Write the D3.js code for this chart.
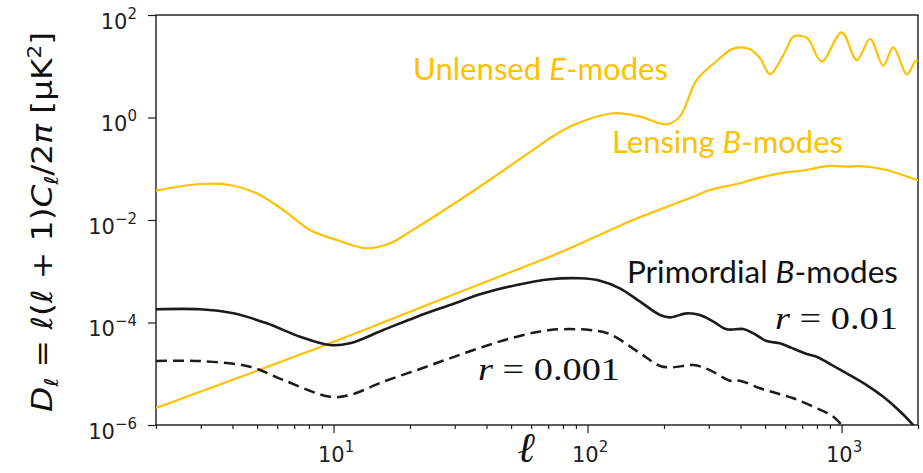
<!DOCTYPE html>
<html>
<head>
<meta charset="utf-8">
<script src="https://cdn.jsdelivr.net/npm/d3@7"></script>
<style>
  body { margin: 0; background: #fff; }
  svg { display: block; }
</style>
</head>
<body>
<svg id="chart" width="923" height="473"></svg>
<script>
// Unlensed E-mode power spectrum, D_ell in uK^2
const ellUnlensedE = [2, 2.98, 3.91, 4.98, 6.34, 8.08, 10.3, 13.5, 16.7, 20, 36, 65, 71, 88, 126, 161, 205, 231, 269, 332, 364, 398, 436, 478, 523, 590, 646, 686, 729, 752, 836, 1002, 1148, 1295, 1460, 1599, 1806, 1946, 2000];
const dUnlensedE   = [0.0373, 0.0504, 0.0482, 0.0332, 0.01567, 0.00638, 0.00407, 0.00281, 0.00351, 0.00592, 0.0385, 0.29, 0.393, 0.714, 1.21, 1.04, 0.736, 1.04, 5.4, 14.3, 20.8, 23.4, 21.4, 14.3, 6.96, 16.6, 37.7, 39.4, 36, 30.1, 12.3, 45.9, 13.2, 34.0, 10.3, 23.4, 6.96, 12.3, 13];

// Lensing B-modes
const ellLensingB = [2, 9.68, 30, 71.1, 80, 151, 176, 261, 303, 398, 436, 572, 729, 875, 1080, 1182, 1506, 1946, 2000];
const dLensingB   = [2.15e-6, 3.93e-5, 3.6e-4, 1.92e-3, 2.45e-3, 1.0e-2, 1.35e-2, 2.85e-2, 3.85e-2, 5.2e-2, 6.0e-2, 8.15e-2, 9.47e-2, 0.113, 0.110, 0.113, 0.0947, 0.0622, 0.060];

// Primordial B-modes, r = 0.01
const ellPrimordial01 = [2, 2.98, 4.03, 5.46, 7.38, 9.68, 11.6, 15.7, 21.3, 28.7, 38.9, 52.6, 71.1, 93.3, 112, 134, 161, 193, 211, 246, 277, 313, 353, 410, 450, 507, 572, 627, 729, 798, 901, 1048, 1256, 1460, 1648, 1888, 2000];
const dPrimordial01   = [1.81e-4, 1.81e-4, 1.51e-4, 9.64e-5, 5.28e-5, 3.64e-5, 3.93e-5, 7.15e-5, 1.30e-4, 2.19e-4, 3.71e-4, 5.39e-4, 6.97e-4, 7.28e-4, 6.54e-4, 4.65e-4, 2.55e-4, 1.40e-4, 1.26e-4, 1.51e-4, 1.40e-4, 1.04e-4, 7.36e-5, 7.46e-5, 6.15e-5, 4.35e-5, 3.93e-5, 3.28e-5, 2.43e-5, 2.15e-5, 1.55e-5, 1.02e-5, 6.02e-6, 3.56e-6, 2.12e-6, 1.08e-6, 7.5e-7];

// Primordial B-modes, r = 0.001
const ellPrimordial001 = [2, 2.98, 4.69, 6.34, 9.68, 11.6, 15.7, 21.3, 28.7, 38.9, 52.6, 71.1, 102, 122, 161, 193, 217, 261, 303, 364, 398, 478, 556, 646, 774, 929, 1000];
const dPrimordial001   = [1.77e-5, 1.77e-5, 1.37e-5, 7.55e-6, 3.56e-6, 3.85e-6, 7.0e-6, 1.18e-5, 2.0e-5, 3.37e-5, 5.28e-5, 7.15e-5, 7.15e-5, 5.97e-5, 2.51e-5, 1.42e-5, 1.34e-5, 1.48e-5, 1.18e-5, 7.31e-6, 7.31e-6, 5.2e-6, 4.16e-6, 3.32e-6, 2.28e-6, 1.45e-6, 1.0e-6];

// axis ticks
const xTickValues = [10, 100, 1000];
const xTickExponents = ["1", "2", "3"];
const yTickValues = [1e2, 1e0, 1e-2, 1e-4, 1e-6];
const yTickExponents = ["2", "0", "\u22122", "\u22124", "\u22126"];

const gold = "#FFC000";
const ink = "#1b1b1b";

const svg = d3.select("#chart");
const x = d3.scaleLog().domain([2, 2000]).range([156, 918]);
const y = d3.scaleLog().domain([1e-6, 1e2]).range([425, 15]);
const [x0, x1] = x.range();
const [y0, y1] = y.range();

svg.append("defs").append("clipPath").attr("id", "plot-clip")
  .append("rect").attr("x", x0).attr("y", y1).attr("width", x1 - x0).attr("height", y0 - y1);

// minor ticks on the multipole axis: 2..9 in each decade
const xMinor = [];
for (let d = 1; d <= 1000; d *= 10) {
  for (let k = 2; k <= 9; k++) {
    const v = k * d;
    if (v >= 2 && v <= 2000) xMinor.push(v);
  }
}

const tickFont = "'DejaVu Sans', sans-serif";

function powerLabel(sel, exponents, attrs) {
  sel.each(function (d, i) {
    const t = d3.select(this).append("text")
      .attr("x", attrs.x).attr("y", attrs.y)
      .attr("fill", "#222").attr("text-anchor", attrs.anchor)
      .style("font-family", tickFont).style("font-size", "21px");
    t.append("tspan").text("10");
    t.append("tspan").attr("dy", -10).style("font-size", "15px").text(exponents[i]);
  });
}

// x axis
const gxMinor = svg.append("g").attr("transform", `translate(0,${y0})`)
  .call(d3.axisBottom(x).tickValues(xMinor).tickSize(4).tickSizeOuter(0).tickFormat(() => ""));
const gx = svg.append("g").attr("transform", `translate(0,${y0})`)
  .call(d3.axisBottom(x).tickValues(xTickValues).tickSize(8).tickSizeOuter(0).tickFormat(() => ""));
[gxMinor, gx].forEach(g => {
  g.select(".domain").remove();
  g.selectAll(".tick text").remove();
  g.selectAll(".tick line").attr("stroke", ink).attr("stroke-width", 1.2);
});
powerLabel(gx.selectAll(".tick"), xTickExponents, { x: 2, y: 37, anchor: "middle" });

// y axis
const gy = svg.append("g").attr("transform", `translate(${x0},0)`)
  .call(d3.axisLeft(y).tickValues(yTickValues).tickSize(8).tickSizeOuter(0).tickFormat(() => ""));
gy.select(".domain").remove();
gy.selectAll(".tick text").remove();
gy.selectAll(".tick line").attr("stroke", ink).attr("stroke-width", 1.2);
powerLabel(gy.selectAll(".tick"), yTickExponents, { x: -19, y: 13, anchor: "end" });

// frame
svg.append("rect")
  .attr("x", x0).attr("y", y1).attr("width", x1 - x0).attr("height", y0 - y1)
  .attr("fill", "none").attr("stroke", ink).attr("stroke-width", 1.4);

// spectra
const line = d3.line()
  .x(d => x(d[0])).y(d => y(d[1]))
  .curve(d3.curveCatmullRom.alpha(0.5));
const plot = svg.append("g").attr("clip-path", "url(#plot-clip)");

const series = [
  { ell: ellLensingB, d: dLensingB, color: gold, width: 2.2, dash: null },
  { ell: ellUnlensedE, d: dUnlensedE, color: gold, width: 2.2, dash: null },
  { ell: ellPrimordial001, d: dPrimordial001, color: ink, width: 2.5, dash: "11,6" },
  { ell: ellPrimordial01, d: dPrimordial01, color: ink, width: 2.6, dash: null }
];
series.forEach(s => {
  plot.append("path")
    .datum(s.ell.map((l, i) => [l, s.d[i]]))
    .attr("fill", "none")
    .attr("stroke", s.color)
    .attr("stroke-width", s.width)
    .attr("stroke-dasharray", s.dash)
    .attr("stroke-linejoin", "round")
    .attr("d", line);
});

// curve annotations
const sans = "Lato, 'Open Sans', sans-serif";
const serif = "'Liberation Serif', 'DejaVu Serif', serif";

function label(xPos, yPos, parts, opts) {
  const t = svg.append("text")
    .attr("x", xPos).attr("y", yPos)
    .attr("fill", opts.color)
    .style("font-family", opts.family)
    .style("font-size", opts.size + "px");
  parts.forEach(p => {
    const sp = t.append("tspan").text(p.text);
    if (p.italic) sp.style("font-style", "italic");
  });
  if (opts.width) t.attr("textLength", opts.width).attr("lengthAdjust", "spacingAndGlyphs");
  return t;
}

label(413, 80, [{ text: "Unlensed " }, { text: "E", italic: true }, { text: "-modes" }],
  { color: gold, family: sans, size: 30, width: 255 });
label(612, 153, [{ text: "Lensing " }, { text: "B", italic: true }, { text: "-modes" }],
  { color: gold, family: sans, size: 30, width: 231 });
label(627, 283, [{ text: "Primordial " }, { text: "B", italic: true }, { text: "-modes" }],
  { color: "#111", family: sans, size: 30, width: 271 });
label(775, 329, [{ text: "r", italic: true }, { text: " = 0.01" }],
  { color: "#111", family: serif, size: 31, width: 123 });
label(478, 380, [{ text: "r", italic: true }, { text: " = 0.001" }],
  { color: "#111", family: serif, size: 31, width: 142 });

// axis titles
svg.append("text")
  .attr("x", 527).attr("y", 462)
  .attr("text-anchor", "middle")
  .attr("fill", "#111")
  .style("font-family", "'DejaVu Serif', serif")
  .style("font-style", "italic")
  .style("font-weight", "bold")
  .style("font-size", "42px")
  .text("\u2113");

const yTitle = svg.append("text")
  .attr("transform", "translate(52,222) rotate(-90)")
  .attr("text-anchor", "middle")
  .attr("fill", "#111")
  .style("font-family", "'DejaVu Sans', sans-serif")
  .style("font-size", "29px");
yTitle.append("tspan").style("font-style", "italic").text("D");
yTitle.append("tspan").attr("dy", 6).style("font-size", "19px").style("font-style", "italic").text("\u2113");
yTitle.append("tspan").attr("dy", -6).text(" = ");
yTitle.append("tspan").style("font-style", "italic").text("\u2113");
yTitle.append("tspan").text("(");
yTitle.append("tspan").style("font-style", "italic").text("\u2113");
yTitle.append("tspan").text(" + 1)");
yTitle.append("tspan").style("font-style", "italic").text("C");
yTitle.append("tspan").attr("dy", 6).style("font-size", "19px").style("font-style", "italic").text("\u2113");
yTitle.append("tspan").attr("dy", -6).text("/2");
yTitle.append("tspan").style("font-style", "italic").text("\u03C0");
yTitle.append("tspan").text(" [\u03BCK");
yTitle.append("tspan").attr("dy", -11).style("font-size", "19px").text("2");
yTitle.append("tspan").attr("dy", 11).text("]");
yTitle.attr("textLength", 380).attr("lengthAdjust", "spacingAndGlyphs");
</script>
</body>
</html>
